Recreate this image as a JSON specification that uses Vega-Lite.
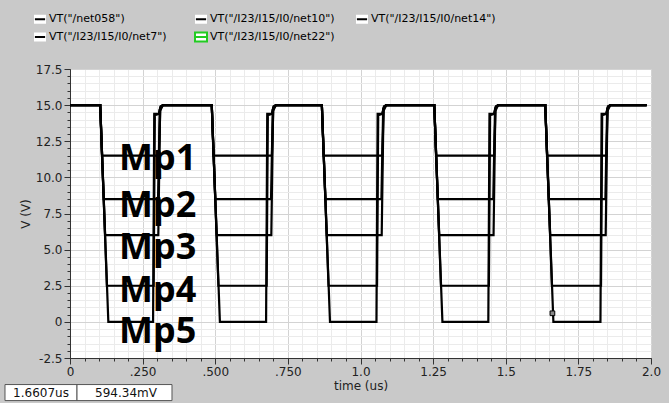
{
"$schema": "https://vega.github.io/schema/vega-lite/v6.json",
"width": 581, "height": 289,
"autosize": "none",
"padding": {"left": 70, "top": 69, "right": 18, "bottom": 45},
"background": "#c9c9c9",
"config": {"view": {"fill": "white", "stroke": "#333", "strokeWidth": 1}, "font": "DejaVu Sans"},
"datasets": {
"traces": [
{"s":"VT(\"/net058\")","t":0,"v":15},
{"s":"VT(\"/net058\")","t":0.104,"v":15},{"s":"VT(\"/net058\")","t":0.110,"v":11.5},{"s":"VT(\"/net058\")","t":0.306,"v":11.5},{"s":"VT(\"/net058\")","t":0.311,"v":14.8},{"s":"VT(\"/net058\")","t":0.320,"v":15},
{"s":"VT(\"/net058\")","t":0.488,"v":15},{"s":"VT(\"/net058\")","t":0.494,"v":11.5},{"s":"VT(\"/net058\")","t":0.695,"v":11.5},{"s":"VT(\"/net058\")","t":0.700,"v":14.8},{"s":"VT(\"/net058\")","t":0.709,"v":15},
{"s":"VT(\"/net058\")","t":0.867,"v":15},{"s":"VT(\"/net058\")","t":0.873,"v":11.5},{"s":"VT(\"/net058\")","t":1.075,"v":11.5},{"s":"VT(\"/net058\")","t":1.080,"v":14.8},{"s":"VT(\"/net058\")","t":1.089,"v":15},
{"s":"VT(\"/net058\")","t":1.254,"v":15},{"s":"VT(\"/net058\")","t":1.260,"v":11.5},{"s":"VT(\"/net058\")","t":1.460,"v":11.5},{"s":"VT(\"/net058\")","t":1.465,"v":14.8},{"s":"VT(\"/net058\")","t":1.474,"v":15},
{"s":"VT(\"/net058\")","t":1.636,"v":15},{"s":"VT(\"/net058\")","t":1.642,"v":11.5},{"s":"VT(\"/net058\")","t":1.846,"v":11.5},{"s":"VT(\"/net058\")","t":1.851,"v":14.8},{"s":"VT(\"/net058\")","t":1.860,"v":15},
{"s":"VT(\"/net058\")","t":1.985,"v":15},

{"s":"VT(\"/I23/I15/I0/net10\")","t":0,"v":15},
{"s":"VT(\"/I23/I15/I0/net10\")","t":0.104,"v":15},{"s":"VT(\"/I23/I15/I0/net10\")","t":0.116,"v":8.5},{"s":"VT(\"/I23/I15/I0/net10\")","t":0.303,"v":8.5},{"s":"VT(\"/I23/I15/I0/net10\")","t":0.309,"v":14.7},{"s":"VT(\"/I23/I15/I0/net10\")","t":0.320,"v":15},
{"s":"VT(\"/I23/I15/I0/net10\")","t":0.488,"v":15},{"s":"VT(\"/I23/I15/I0/net10\")","t":0.500,"v":8.5},{"s":"VT(\"/I23/I15/I0/net10\")","t":0.692,"v":8.5},{"s":"VT(\"/I23/I15/I0/net10\")","t":0.698,"v":14.7},{"s":"VT(\"/I23/I15/I0/net10\")","t":0.709,"v":15},
{"s":"VT(\"/I23/I15/I0/net10\")","t":0.867,"v":15},{"s":"VT(\"/I23/I15/I0/net10\")","t":0.879,"v":8.5},{"s":"VT(\"/I23/I15/I0/net10\")","t":1.072,"v":8.5},{"s":"VT(\"/I23/I15/I0/net10\")","t":1.078,"v":14.7},{"s":"VT(\"/I23/I15/I0/net10\")","t":1.089,"v":15},
{"s":"VT(\"/I23/I15/I0/net10\")","t":1.254,"v":15},{"s":"VT(\"/I23/I15/I0/net10\")","t":1.266,"v":8.5},{"s":"VT(\"/I23/I15/I0/net10\")","t":1.457,"v":8.5},{"s":"VT(\"/I23/I15/I0/net10\")","t":1.463,"v":14.7},{"s":"VT(\"/I23/I15/I0/net10\")","t":1.474,"v":15},
{"s":"VT(\"/I23/I15/I0/net10\")","t":1.636,"v":15},{"s":"VT(\"/I23/I15/I0/net10\")","t":1.648,"v":8.5},{"s":"VT(\"/I23/I15/I0/net10\")","t":1.843,"v":8.5},{"s":"VT(\"/I23/I15/I0/net10\")","t":1.849,"v":14.7},{"s":"VT(\"/I23/I15/I0/net10\")","t":1.860,"v":15},
{"s":"VT(\"/I23/I15/I0/net10\")","t":1.985,"v":15},

{"s":"VT(\"/I23/I15/I0/net14\")","t":0,"v":15},
{"s":"VT(\"/I23/I15/I0/net14\")","t":0.104,"v":15},{"s":"VT(\"/I23/I15/I0/net14\")","t":0.121,"v":6},{"s":"VT(\"/I23/I15/I0/net14\")","t":0.304,"v":6},{"s":"VT(\"/I23/I15/I0/net14\")","t":0.310,"v":14.6},{"s":"VT(\"/I23/I15/I0/net14\")","t":0.320,"v":15},
{"s":"VT(\"/I23/I15/I0/net14\")","t":0.488,"v":15},{"s":"VT(\"/I23/I15/I0/net14\")","t":0.505,"v":6},{"s":"VT(\"/I23/I15/I0/net14\")","t":0.693,"v":6},{"s":"VT(\"/I23/I15/I0/net14\")","t":0.699,"v":14.6},{"s":"VT(\"/I23/I15/I0/net14\")","t":0.709,"v":15},
{"s":"VT(\"/I23/I15/I0/net14\")","t":0.867,"v":15},{"s":"VT(\"/I23/I15/I0/net14\")","t":0.884,"v":6},{"s":"VT(\"/I23/I15/I0/net14\")","t":1.073,"v":6},{"s":"VT(\"/I23/I15/I0/net14\")","t":1.079,"v":14.6},{"s":"VT(\"/I23/I15/I0/net14\")","t":1.089,"v":15},
{"s":"VT(\"/I23/I15/I0/net14\")","t":1.254,"v":15},{"s":"VT(\"/I23/I15/I0/net14\")","t":1.271,"v":6},{"s":"VT(\"/I23/I15/I0/net14\")","t":1.458,"v":6},{"s":"VT(\"/I23/I15/I0/net14\")","t":1.464,"v":14.6},{"s":"VT(\"/I23/I15/I0/net14\")","t":1.474,"v":15},
{"s":"VT(\"/I23/I15/I0/net14\")","t":1.636,"v":15},{"s":"VT(\"/I23/I15/I0/net14\")","t":1.653,"v":6},{"s":"VT(\"/I23/I15/I0/net14\")","t":1.844,"v":6},{"s":"VT(\"/I23/I15/I0/net14\")","t":1.850,"v":14.6},{"s":"VT(\"/I23/I15/I0/net14\")","t":1.860,"v":15},
{"s":"VT(\"/I23/I15/I0/net14\")","t":1.985,"v":15},

{"s":"VT(\"/I23/I15/I0/net7\")","t":0,"v":15},
{"s":"VT(\"/I23/I15/I0/net7\")","t":0.104,"v":15},{"s":"VT(\"/I23/I15/I0/net7\")","t":0.127,"v":2.5},{"s":"VT(\"/I23/I15/I0/net7\")","t":0.288,"v":2.5},{"s":"VT(\"/I23/I15/I0/net7\")","t":0.292,"v":14.3},{"s":"VT(\"/I23/I15/I0/net7\")","t":0.306,"v":14.4},{"s":"VT(\"/I23/I15/I0/net7\")","t":0.312,"v":14.9},{"s":"VT(\"/I23/I15/I0/net7\")","t":0.320,"v":15},
{"s":"VT(\"/I23/I15/I0/net7\")","t":0.488,"v":15},{"s":"VT(\"/I23/I15/I0/net7\")","t":0.511,"v":2.5},{"s":"VT(\"/I23/I15/I0/net7\")","t":0.677,"v":2.5},{"s":"VT(\"/I23/I15/I0/net7\")","t":0.681,"v":14.3},{"s":"VT(\"/I23/I15/I0/net7\")","t":0.695,"v":14.4},{"s":"VT(\"/I23/I15/I0/net7\")","t":0.701,"v":14.9},{"s":"VT(\"/I23/I15/I0/net7\")","t":0.709,"v":15},
{"s":"VT(\"/I23/I15/I0/net7\")","t":0.867,"v":15},{"s":"VT(\"/I23/I15/I0/net7\")","t":0.890,"v":2.5},{"s":"VT(\"/I23/I15/I0/net7\")","t":1.057,"v":2.5},{"s":"VT(\"/I23/I15/I0/net7\")","t":1.061,"v":14.3},{"s":"VT(\"/I23/I15/I0/net7\")","t":1.075,"v":14.4},{"s":"VT(\"/I23/I15/I0/net7\")","t":1.081,"v":14.9},{"s":"VT(\"/I23/I15/I0/net7\")","t":1.089,"v":15},
{"s":"VT(\"/I23/I15/I0/net7\")","t":1.254,"v":15},{"s":"VT(\"/I23/I15/I0/net7\")","t":1.277,"v":2.5},{"s":"VT(\"/I23/I15/I0/net7\")","t":1.442,"v":2.5},{"s":"VT(\"/I23/I15/I0/net7\")","t":1.446,"v":14.3},{"s":"VT(\"/I23/I15/I0/net7\")","t":1.460,"v":14.4},{"s":"VT(\"/I23/I15/I0/net7\")","t":1.466,"v":14.9},{"s":"VT(\"/I23/I15/I0/net7\")","t":1.474,"v":15},
{"s":"VT(\"/I23/I15/I0/net7\")","t":1.636,"v":15},{"s":"VT(\"/I23/I15/I0/net7\")","t":1.659,"v":2.5},{"s":"VT(\"/I23/I15/I0/net7\")","t":1.828,"v":2.5},{"s":"VT(\"/I23/I15/I0/net7\")","t":1.832,"v":14.3},{"s":"VT(\"/I23/I15/I0/net7\")","t":1.846,"v":14.4},{"s":"VT(\"/I23/I15/I0/net7\")","t":1.852,"v":14.9},{"s":"VT(\"/I23/I15/I0/net7\")","t":1.860,"v":15},
{"s":"VT(\"/I23/I15/I0/net7\")","t":1.985,"v":15},

{"s":"VT(\"/I23/I15/I0/net22\")","t":0,"v":15},
{"s":"VT(\"/I23/I15/I0/net22\")","t":0.104,"v":15},{"s":"VT(\"/I23/I15/I0/net22\")","t":0.132,"v":0},{"s":"VT(\"/I23/I15/I0/net22\")","t":0.286,"v":0},{"s":"VT(\"/I23/I15/I0/net22\")","t":0.290,"v":14.4},{"s":"VT(\"/I23/I15/I0/net22\")","t":0.306,"v":14.4},{"s":"VT(\"/I23/I15/I0/net22\")","t":0.312,"v":14.9},{"s":"VT(\"/I23/I15/I0/net22\")","t":0.320,"v":15},
{"s":"VT(\"/I23/I15/I0/net22\")","t":0.488,"v":15},{"s":"VT(\"/I23/I15/I0/net22\")","t":0.516,"v":0},{"s":"VT(\"/I23/I15/I0/net22\")","t":0.675,"v":0},{"s":"VT(\"/I23/I15/I0/net22\")","t":0.679,"v":14.4},{"s":"VT(\"/I23/I15/I0/net22\")","t":0.695,"v":14.4},{"s":"VT(\"/I23/I15/I0/net22\")","t":0.701,"v":14.9},{"s":"VT(\"/I23/I15/I0/net22\")","t":0.709,"v":15},
{"s":"VT(\"/I23/I15/I0/net22\")","t":0.867,"v":15},{"s":"VT(\"/I23/I15/I0/net22\")","t":0.895,"v":0},{"s":"VT(\"/I23/I15/I0/net22\")","t":1.055,"v":0},{"s":"VT(\"/I23/I15/I0/net22\")","t":1.059,"v":14.4},{"s":"VT(\"/I23/I15/I0/net22\")","t":1.075,"v":14.4},{"s":"VT(\"/I23/I15/I0/net22\")","t":1.081,"v":14.9},{"s":"VT(\"/I23/I15/I0/net22\")","t":1.089,"v":15},
{"s":"VT(\"/I23/I15/I0/net22\")","t":1.254,"v":15},{"s":"VT(\"/I23/I15/I0/net22\")","t":1.282,"v":0},{"s":"VT(\"/I23/I15/I0/net22\")","t":1.440,"v":0},{"s":"VT(\"/I23/I15/I0/net22\")","t":1.444,"v":14.4},{"s":"VT(\"/I23/I15/I0/net22\")","t":1.460,"v":14.4},{"s":"VT(\"/I23/I15/I0/net22\")","t":1.466,"v":14.9},{"s":"VT(\"/I23/I15/I0/net22\")","t":1.474,"v":15},
{"s":"VT(\"/I23/I15/I0/net22\")","t":1.636,"v":15},{"s":"VT(\"/I23/I15/I0/net22\")","t":1.664,"v":0},{"s":"VT(\"/I23/I15/I0/net22\")","t":1.826,"v":0},{"s":"VT(\"/I23/I15/I0/net22\")","t":1.830,"v":14.4},{"s":"VT(\"/I23/I15/I0/net22\")","t":1.846,"v":14.4},{"s":"VT(\"/I23/I15/I0/net22\")","t":1.852,"v":14.9},{"s":"VT(\"/I23/I15/I0/net22\")","t":1.860,"v":15},
{"s":"VT(\"/I23/I15/I0/net22\")","t":1.985,"v":15}
],
"labels": [
{"label":"Mp1","t":0.169,"v":10.53},
{"label":"Mp2","t":0.169,"v":7.23},
{"label":"Mp3","t":0.169,"v":4.35},
{"label":"Mp4","t":0.169,"v":1.39},
{"label":"Mp5","t":0.169,"v":-1.46}
],
"cursor": [{"t":1.6607,"v":0.594}],
"readout": [
{"txt":"1.6607us","t0":-0.2238,"t1":0.0241,"tc":-0.0998,"v0":-4.338,"v1":-5.447,"vc":-4.89},
{"txt":"594.34mV","t0":0.0241,"t1":0.3511,"tc":0.1928,"v0":-4.338,"v1":-5.447,"vc":-4.89}
]
},
"layer": [
{
"data": {"name": "traces"},
"mark": {"type": "line", "strokeWidth": 2.2, "color": "#000000"},
"encoding": {
"x": {"field": "t", "type": "quantitative", "scale": {"domain": [0, 2], "nice": false, "zero": false},
"axis": {"orient": "bottom", "tickCount": 40, "grid": true, "gridColor": "#ebebeb", "tickSize": 3, "tickColor": "#333", "domain": false, "labels": false, "title": null}},
"y": {"field": "v", "type": "quantitative", "scale": {"domain": [-2.5, 17.5], "nice": false, "zero": false},
"axis": {"orient": "left", "tickCount": 40, "grid": true, "gridColor": "#ebebeb", "tickSize": 3, "tickColor": "#333", "domain": false, "labels": false, "title": null}},
"opacity": {"field": "s", "type": "nominal",
"sort": ["VT(\"/net058\")", "VT(\"/I23/I15/I0/net10\")", "VT(\"/I23/I15/I0/net14\")", "VT(\"/I23/I15/I0/net7\")", "VT(\"/I23/I15/I0/net22\")"],
"scale": {"range": [1, 1, 1, 1, 1]},
"legend": {"orient": "none", "legendX": -37, "legendY": -57, "direction": "horizontal", "columns": 3, "gridAlign": "all", "columnPadding": 17, "rowPadding": 0, "padding": 0, "title": null,
"symbolType": "M-0.85,0H0.85L1,0V0.75H-1V-0.75H1V0Z", "symbolSize": 144, "symbolStrokeWidth": 2, "symbolFillColor": "#ffffff", "symbolStrokeColor": "#000000",
"labelFont": "DejaVu Sans", "labelFontSize": 11, "labelColor": "#000", "labelOffset": 2,
"encode": {"symbols": {"update": {
"fill": {"value": "#ffffff"},
"stroke": {"signal": "indexof(datum.value, 'net22') >= 0 ? '#22cc22' : '#000000'"},
"strokeDash": {"signal": "indexof(datum.value, 'net22') >= 0 ? [10.2, 0.9, 42, 30] : [10.2, 100]"}}}}}}
}
},
{
"data": {"name": "labels"},
"mark": {"type": "text", "font": "Noto Sans", "fontWeight": "bold", "fontSize": 36, "align": "left", "baseline": "alphabetic", "color": "#000"},
"encoding": {
"x": {"field": "t", "type": "quantitative", "scale": {"domain": [0, 2], "nice": false, "zero": false},
"axis": {"orient": "bottom", "values": [0, 0.25, 0.5, 0.75, 1, 1.25, 1.5, 1.75, 2], "grid": true, "gridColor": "#d3d3d3", "tickSize": 6, "tickColor": "#333", "domain": true, "domainColor": "#333",
"labelFont": "DejaVu Sans", "labelFontSize": 12, "labelColor": "#222", "labelPadding": 2, "labelFlush": false, "labelOverlap": false,
"labelExpr": "datum.value == 0 ? '0' : datum.value < 1 ? substring(format(datum.value, '.3f'), 1) : datum.value % 1 == 0 ? format(datum.value, '.1f') : format(datum.value, '.2~f')",
"title": "time (us)", "titleFont": "DejaVu Sans", "titleFontSize": 12, "titleFontWeight": "normal", "titleColor": "#222", "titlePadding": 3}},
"y": {"field": "v", "type": "quantitative", "scale": {"domain": [-2.5, 17.5], "nice": false, "zero": false},
"axis": {"orient": "left", "values": [-2.5, 0, 2.5, 5, 7.5, 10, 12.5, 15, 17.5], "grid": true, "gridColor": "#d3d3d3", "tickSize": 6, "tickColor": "#333", "domain": true, "domainColor": "#333",
"labelFont": "DejaVu Sans", "labelFontSize": 12, "labelColor": "#222", "labelPadding": 2, "labelFlush": false, "labelOverlap": false,
"labelExpr": "datum.value == 0 ? '0' : datum.value < 0 ? '-' + format(-datum.value, '.1f') : format(datum.value, '.1f')",
"title": "V (V)", "titleFont": "DejaVu Sans", "titleFontSize": 12, "titleFontWeight": "normal", "titleColor": "#222", "titlePadding": 3}},
"text": {"field": "label", "type": "nominal"}
}
},
{
"data": {"name": "cursor"},
"mark": {"type": "point", "shape": "square", "size": 22, "filled": true, "fill": "#888888", "stroke": "#000", "strokeWidth": 1, "opacity": 1},
"encoding": {
"x": {"field": "t", "type": "quantitative", "axis": null},
"y": {"field": "v", "type": "quantitative", "axis": null}
}
},
{
"data": {"name": "readout"},
"mark": {"type": "rect", "fill": "white", "stroke": "#555", "strokeWidth": 1},
"encoding": {
"x": {"field": "t0", "type": "quantitative", "axis": null},
"x2": {"field": "t1"},
"y": {"field": "v0", "type": "quantitative", "axis": null},
"y2": {"field": "v1"}
}
},
{
"data": {"name": "readout"},
"mark": {"type": "text", "font": "DejaVu Sans", "fontSize": 12, "align": "center", "baseline": "middle", "color": "#111"},
"encoding": {
"x": {"field": "tc", "type": "quantitative", "axis": null},
"y": {"field": "vc", "type": "quantitative", "axis": null},
"text": {"field": "txt", "type": "nominal"}
}
}
],
"resolve": {"axis": {"x": "independent", "y": "independent"}}
}
